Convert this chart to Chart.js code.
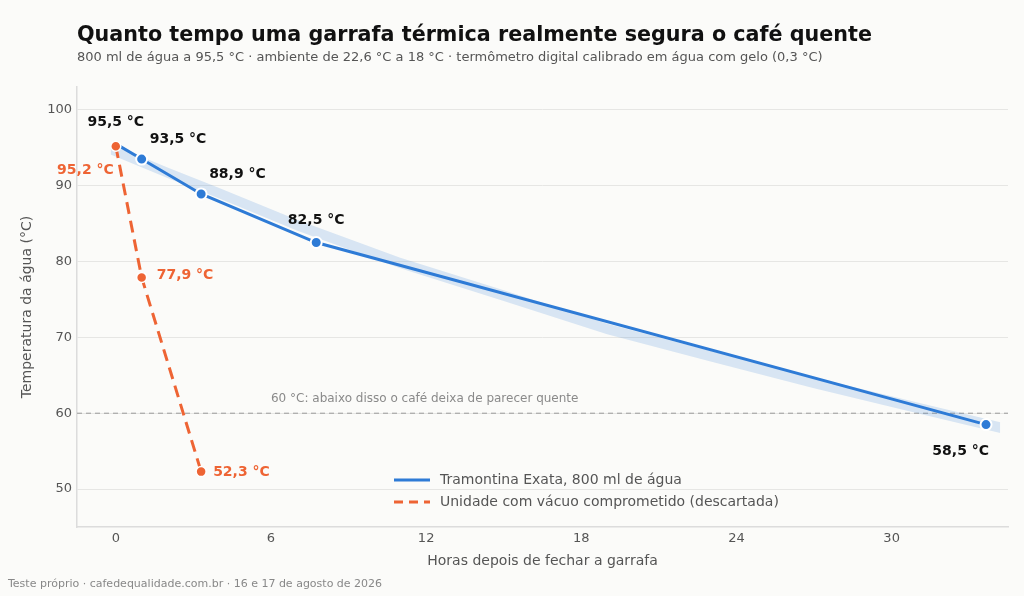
<!DOCTYPE html>
<html lang="pt-BR">
<head>
<meta charset="utf-8">
<title>Garrafa térmica</title>
<script src="https://cdn.jsdelivr.net/npm/chart.js@4.4.1/dist/chart.umd.min.js"></script>
<style>
  html, body { margin: 0; padding: 0; background: #fbfbf9; }
  body { width: 1024px; height: 596px; position: relative; overflow: hidden; font-family: "DejaVu Sans", sans-serif; }
  #wrap { position: absolute; left: 0; top: 0; width: 1024px; height: 596px; }
  .title { position: absolute; left: 77px; top: 22px; font-size: 20.7px; font-weight: bold; color: #111; white-space: nowrap; }
  .sub { position: absolute; left: 77px; top: 49px; font-size: 13px; color: #555; white-space: nowrap; }
  .foot { position: absolute; left: 8px; top: 577px; font-size: 11px; color: #888; white-space: nowrap; }
</style>
</head>
<body>
<div id="wrap"><canvas id="c"></canvas></div>
<div class="title">Quanto tempo uma garrafa térmica realmente segura o café quente</div>
<div class="sub">800 ml de água a 95,5 °C · ambiente de 22,6 °C a 18 °C · termômetro digital calibrado em água com gelo (0,3 °C)</div>
<div class="foot">Teste próprio · cafedequalidade.com.br · 16 e 17 de agosto de 2026</div>
<script>
  'use strict';

  /* dados */
  var horasBoa = [0, 1, 3.3, 7.75, 33.65];
  var tempBoa = [95.5, 93.5, 88.9, 82.5, 58.5];
  var horasRuim = [0, 1, 3.3];
  var tempRuim = [95.2, 77.9, 52.3];

  /* faixa da curva ajustada (limites inferior/superior) */
  var horasFaixa = [-0.2, 2, 4, 7, 11, 15, 19, 23, 27, 31, 34.2];
  var faixaBaixo = [94.1, 91.0, 88.3, 84.1, 79.1, 74.8, 70.4, 66.8, 63.3, 60.0, 57.4];
  var faixaAlto = [95.5, 92.4, 89.7, 85.5, 80.5, 76.2, 71.8, 68.2, 64.7, 61.4, 58.8];

  var ticksX = [0, 6, 12, 18, 24, 30];
  var ticksY = [50, 60, 70, 80, 90, 100];
  var limiteQuente = 60;

  var AZUL = '#2e7bd6', LARANJA = '#ee6434', CINZA = '#555';

  function pts(xs, ys) { return xs.map(function (x, i) { return { x: x, y: ys[i] }; }); }
  function fmt(v) { return v.toFixed(1).replace('.', ',') + ' °C'; }

  /* posição de cada rótulo em relação ao ponto */
  var posBoa = [
    { dx: 0, dy: -22, align: 'center' },
    { dx: 8, dy: -20, align: 'left' },
    { dx: 8, dy: -20, align: 'left' },
    { dx: 0, dy: -22, align: 'center' },
    { dx: 3, dy: 27, align: 'right' }
  ];
  var posRuim = [
    { dx: -2, dy: 24, align: 'right' },
    { dx: 15, dy: -2, align: 'left' },
    { dx: 12, dy: 1, align: 'left' }
  ];

  var rotulos = {
    id: 'rotulos',
    beforeDatasetsDraw: function (chart) {
      var ctx = chart.ctx, a = chart.chartArea;
      var y = chart.scales.y.getPixelForValue(limiteQuente);
      var x6 = chart.scales.x.getPixelForValue(6);
      ctx.save();
      ctx.strokeStyle = '#999'; ctx.lineWidth = 1; ctx.setLineDash([5, 4]);
      ctx.beginPath(); ctx.moveTo(a.left, y); ctx.lineTo(a.right, y); ctx.stroke();
      ctx.setLineDash([]);
      ctx.fillStyle = '#8a8a8a'; ctx.font = '12px "DejaVu Sans"';
      ctx.textAlign = 'left'; ctx.textBaseline = 'middle';
      ctx.fillText('60 °C: abaixo disso o café deixa de parecer quente', x6, y - 14);
      ctx.restore();
    },
    afterDatasetsDraw: function (chart) {
      var ctx = chart.ctx;
      ctx.save();
      ctx.font = 'bold 14px "DejaVu Sans"';
      ctx.textBaseline = 'middle';
      [[0, tempBoa, posBoa, '#111'], [1, tempRuim, posRuim, LARANJA]].forEach(function (s) {
        var meta = chart.getDatasetMeta(s[0]);
        meta.data.forEach(function (p, i) {
          var o = s[2][i];
          ctx.fillStyle = s[3];
          ctx.textAlign = o.align;
          ctx.fillText(fmt(s[1][i]), p.x + o.dx, p.y + o.dy);
        });
      });

      /* legenda dentro da área do gráfico */
      var a = chart.chartArea;
      var lx = a.left + 317, ly = a.bottom - 47;
      ctx.font = '14px "DejaVu Sans"'; ctx.textAlign = 'left';
      ctx.lineWidth = 3;
      ctx.strokeStyle = AZUL; ctx.setLineDash([]);
      ctx.beginPath(); ctx.moveTo(lx, ly); ctx.lineTo(lx + 36, ly); ctx.stroke();
      ctx.strokeStyle = LARANJA; ctx.setLineDash([9, 6]);
      ctx.beginPath(); ctx.moveTo(lx, ly + 22); ctx.lineTo(lx + 36, ly + 22); ctx.stroke();
      ctx.setLineDash([]);
      ctx.fillStyle = CINZA;
      ctx.fillText('Tramontina Exata, 800 ml de água', lx + 46, ly);
      ctx.fillText('Unidade com vácuo comprometido (descartada)', lx + 46, ly + 22);
      ctx.restore();
    }
  };

  new Chart(document.getElementById('c').getContext('2d'), {
    type: 'line',
    data: {
      datasets: [
        { label: 'Tramontina Exata, 800 ml de água', data: pts(horasBoa, tempBoa), order: 2,
          borderColor: AZUL, borderWidth: 3, tension: 0,
          pointRadius: function (c) { return c.dataIndex === 0 ? 0 : 5.5; },
          pointBackgroundColor: AZUL, pointBorderColor: '#fff', pointBorderWidth: 2, fill: false },
        { label: 'Unidade com vácuo comprometido (descartada)', data: pts(horasRuim, tempRuim), order: 1,
          borderColor: LARANJA, borderWidth: 3, borderDash: [12, 7], tension: 0, pointRadius: 5,
          pointBackgroundColor: LARANJA, pointBorderColor: '#fff', pointBorderWidth: 1.5, fill: false },
        { label: 'faixa-baixo', data: pts(horasFaixa, faixaBaixo), order: 3,
          borderWidth: 0, pointRadius: 0, fill: false },
        { label: 'faixa-alto', data: pts(horasFaixa, faixaAlto), order: 3,
          borderWidth: 0, pointRadius: 0, backgroundColor: 'rgba(46,123,214,0.17)', fill: '-1' }
      ]
    },
    options: {
      responsive: true, maintainAspectRatio: false, animation: false,
      layout: { padding: { top: 87, right: 16, left: 0, bottom: 0 } },
      plugins: { legend: { display: false }, tooltip: { enabled: false } },
      scales: {
        x: {
          type: 'linear', min: -1.5, max: 34.5,
          afterFit: function (s) { s.height = 69; },
          afterBuildTicks: function (s) { s.ticks = ticksX.map(function (v) { return { value: v }; }); },
          grid: { display: false, drawTicks: false },
          border: { color: '#dcdcdc', width: 1.5 },
          ticks: { color: CINZA, font: { family: 'DejaVu Sans', size: 13 }, padding: 4 },
          title: { display: true, text: 'Horas depois de fechar a garrafa', color: CINZA,
                   font: { family: 'DejaVu Sans', size: 14 }, padding: { top: 0, bottom: 26 } }
        },
        y: {
          min: 45, max: 103,
          afterFit: function (s) { s.width = 77; },
          afterBuildTicks: function (s) { s.ticks = ticksY.map(function (v) { return { value: v }; }); },
          grid: { color: '#e6e6e4', drawTicks: false },
          border: { color: '#dcdcdc', width: 1.5 },
          ticks: { color: CINZA, font: { family: 'DejaVu Sans', size: 13 }, padding: 5 },
          title: { display: true, text: 'Temperatura da água (°C)', color: CINZA,
                   font: { family: 'DejaVu Sans', size: 14 }, padding: { top: 19, bottom: 0 } }
        }
      }
    },
    plugins: [rotulos]
  });
</script>
</body>
</html>
